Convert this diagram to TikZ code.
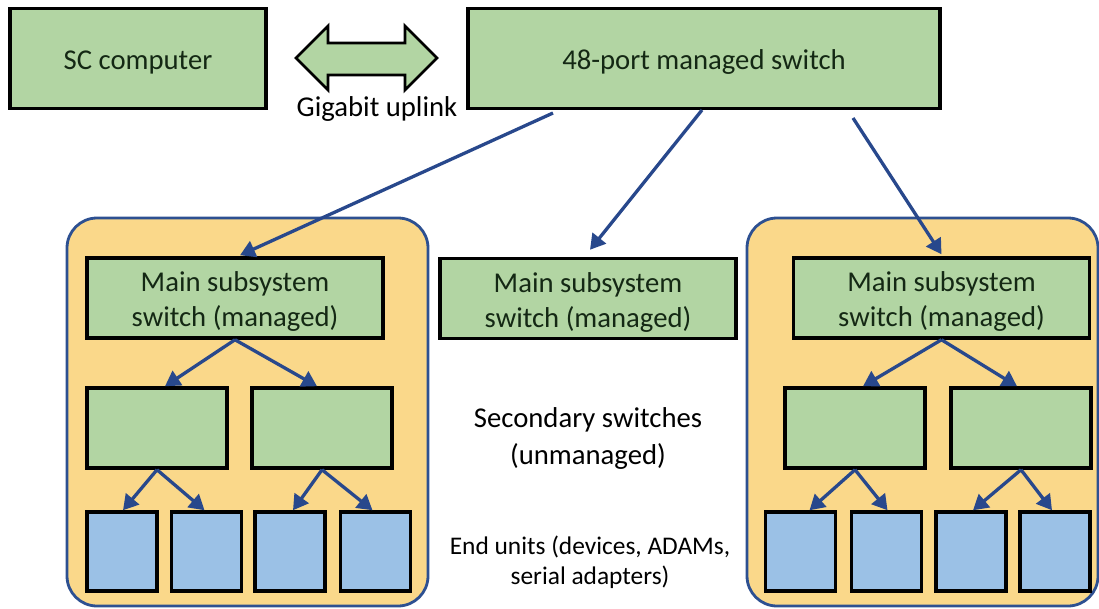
\documentclass[tikz,border=0pt]{standalone}
\usepackage{fontspec}
\setmainfont{Carlito}
\usetikzlibrary{arrows.meta,calc}
\definecolor{boxgreen}{RGB}{178,213,163}
\definecolor{unitblue}{RGB}{155,193,230}
\definecolor{panelyellow}{RGB}{250,216,138}
\definecolor{panelblue}{RGB}{45,80,145}
\definecolor{arrowblue}{RGB}{40,72,140}
\definecolor{txtgreen}{RGB}{20,40,20}
\newcommand{\boxtext}[1]{\raisebox{0pt}[\dimexpr\height+8pt\relax][\depth]{\begin{tabular}{@{}c@{}}#1\end{tabular}}}
\tikzset{
  gbox/.style={draw=black, line width=3.5pt, fill=boxgreen, inner sep=0pt, align=center,
    text=txtgreen, font=\fontsize{28.7}{35}\selectfont},
  ubox/.style={draw=black, line width=3.5pt, fill=unitblue, inner sep=0pt,
    minimum width=70pt, minimum height=79pt},
  secbox/.style={gbox, minimum width=140pt, minimum height=80pt},
  mainbox/.style={gbox, minimum width=296pt, minimum height=80pt},
  panel/.style={draw=panelblue, line width=2.8pt, fill=panelyellow, rounded corners=30pt},
  link/.style={draw=arrowblue, line width=3.3pt, -{Triangle[length=15pt,width=17pt]}},
  lbl/.style={align=center, font=\fontsize{28.7}{37}\selectfont, text=black},
}
\begin{document}
\begin{tikzpicture}[x=1pt,y=-1pt]
\useasboundingbox (0,0) rectangle (1099,608);
\clip (0,0) rectangle (1099,608);
% panels
\draw[panel] (67,218) rectangle (428,606);
\draw[panel] (747,218) rectangle (1098,606);
% top row
\node[gbox, minimum width=256pt, minimum height=100pt] (sc) at (138,58.5) {\boxtext{SC computer}};
\node[gbox, minimum width=472pt, minimum height=100pt] (sw) at (704,58.5) {\boxtext{48-port managed switch}};
\draw[fill=boxgreen, line width=2.8pt, line join=miter]
  (296,58) -- (328,26) -- (328,43) -- (405,43) -- (405,26) -- (437,58)
  -- (405,90) -- (405,75) -- (328,75) -- (328,90) -- cycle;
\node[lbl] (gl) at (377,109) {Gigabit uplink};
% main switches
\node[mainbox] (mL) at (235,298) {\boxtext{Main subsystem\\switch (managed)}};
\node[mainbox] (mM) at (588,298.5) {\boxtext{Main subsystem\\switch (managed)}};
\node[mainbox] (mR) at (941.5,298) {\boxtext{Main subsystem\\switch (managed)}};
% secondary switches
\node[secbox] (sL1) at (157,428) {};
\node[secbox] (sL2) at (322,428) {};
\node[secbox] (sR1) at (855,428) {};
\node[secbox] (sR2) at (1021,428) {};
% end units
\node[ubox] (uL1) at (122,551.5) {};
\node[ubox] (uL2) at (206.5,551.5) {};
\node[ubox] (uL3) at (290,551.5) {};
\node[ubox] (uL4) at (375.5,551.5) {};
\node[ubox] (uR1) at (800.5,551.5) {};
\node[ubox] (uR2) at (886.5,551.5) {};
\node[ubox] (uR3) at (971,551.5) {};
\node[ubox] (uR4) at (1055,551.5) {};
% labels
\node[lbl] (seclbl) at (588,438) {Secondary switches\\(unmanaged)};
\node[lbl, font=\fontsize{25.4}{30}\selectfont] (endlbl) at (590,562.5) {End units (devices, ADAMs,\\serial adapters)};
% uplink arrows
\coordinate (o1) at (553,113);
\coordinate (o2) at (702,110);
\coordinate (o3) at (853,118);
\draw[link] (o1) -- ($(mL.north)+(5,-1)$);
\draw[link] (o2) -- ($(mM.north)+(2,-7)$);
\draw[link] (o3) -- ($(mR.north)+(0,-2)$);
% internal arrows
\draw[link] (mL.south) -- ($(sL1.north)+(8,0)$);
\draw[link] (mL.south) -- ($(sL2.north)+(-5,0)$);
\draw[link] (mR.south) -- ($(sR1.north)+(8,0)$);
\draw[link] (mR.south) -- ($(sR2.north)+(-4,0)$);
\draw[link] (sL1.south) -- ($(uL1.north)+(1,0)$);
\draw[link] (sL1.south) -- ($(uL2.north)+(-2,0)$);
\draw[link] (sL2.south) -- ($(uL3.north)+(3,0)$);
\draw[link] (sL2.south) -- ($(uL4.north)+(-3,0)$);
\draw[link] (sR1.south) -- ($(uR1.north)+(9,0)$);
\draw[link] (sR1.south) -- ($(uR2.north)+(1,0)$);
\draw[link] (sR2.south) -- ($(uR3.north)+(2,0)$);
\draw[link] (sR2.south) -- ($(uR4.north)+(-3,0)$);
\end{tikzpicture}
\end{document}
